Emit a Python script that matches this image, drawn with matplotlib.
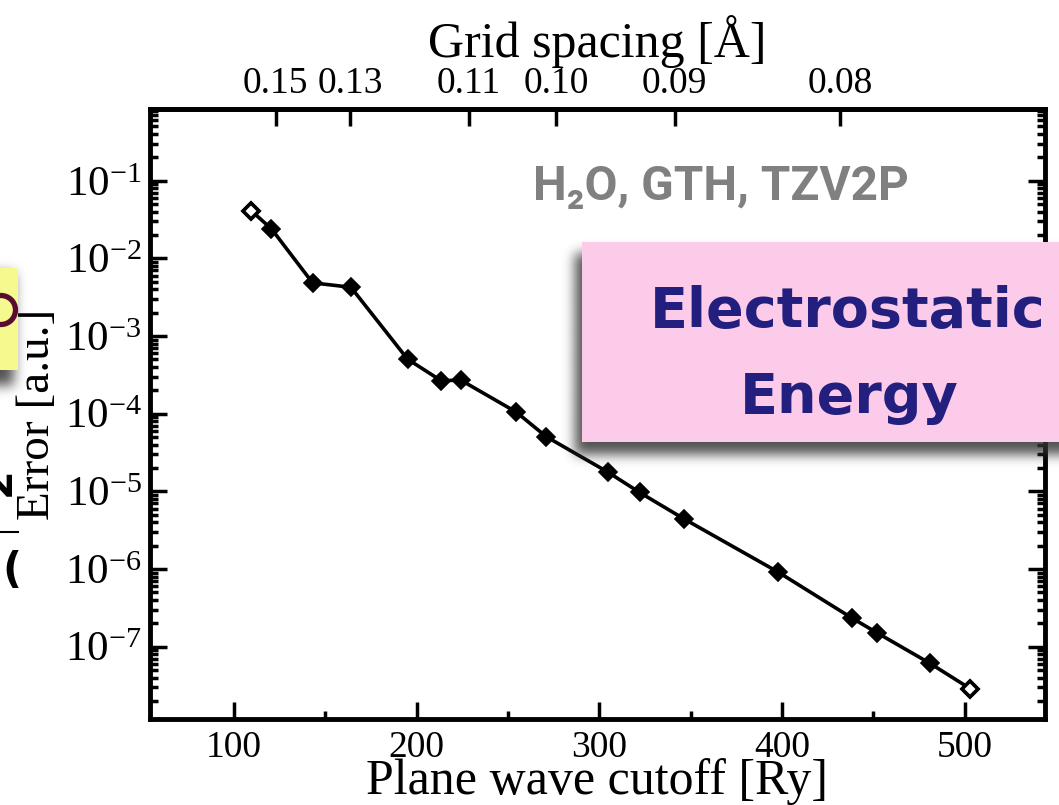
import numpy as np
import matplotlib
matplotlib.use("Agg")
import matplotlib.pyplot as plt
from matplotlib.patches import Rectangle, Ellipse
from matplotlib.ticker import LogLocator, MultipleLocator, NullLocator, NullFormatter

# ---- data -------------------------------------------------------------
cutoff_ry = [109.5, 120.5, 143, 164, 195, 213.5, 224, 254.5, 271, 304.5,
             322, 346.5, 398, 438.5, 452, 481, 503]
error_au = [4.1e-2, 2.4e-2, 4.85e-3, 4.25e-3, 5.05e-4, 2.65e-4, 2.72e-4,
            1.05e-4, 5.05e-5, 1.78e-5, 9.7e-6, 4.4e-6, 9.1e-7, 2.32e-7,
            1.51e-7, 6.1e-8, 2.88e-8]
grid_ticks = [0.15, 0.13, 0.11, 0.10, 0.09, 0.08]
grid_tick_labels = ["0.15", "0.13", "0.11", "0.10", "0.09", "0.08"]

BOHR = 0.529177  # Angstrom


def cutoff_to_spacing(e):
    e = np.clip(np.asarray(e, dtype=float), 1e-6, None)
    return np.pi * BOHR / np.sqrt(e)


def spacing_to_cutoff(h):
    h = np.clip(np.asarray(h, dtype=float), 1e-6, None)
    return (np.pi * BOHR / h) ** 2


# ---- style ------------------------------------------------------------
plt.rcParams["font.family"] = ["Liberation Serif", "DejaVu Serif"]
plt.rcParams["mathtext.fontset"] = "custom"
plt.rcParams["mathtext.rm"] = "Liberation Serif"
plt.rcParams["mathtext.it"] = "Liberation Serif:italic"
plt.rcParams["mathtext.default"] = "regular"
plt.rcParams["axes.unicode_minus"] = False

W, H = 1059, 805
fig = plt.figure(figsize=(W / 100, H / 100), dpi=100)
ax = fig.add_axes([150 / W, 1 - 719 / H, 895 / W, 610 / H])

ax.plot(cutoff_ry, error_au, color="black", lw=2.6, marker="D", ms=9,
        mfc="black", mec="black", mew=1.2, zorder=3)
ax.plot([cutoff_ry[0], cutoff_ry[-1]], [error_au[0], error_au[-1]], ls="none",
        marker="D", ms=8.5, mfc="white", mec="black", mew=2.6, zorder=4)

ax.set_yscale("log")
ax.set_xlim(54, 544)
ax.set_ylim(1.17e-8, 0.84)
ax.xaxis.set_major_locator(MultipleLocator(100))
ax.xaxis.set_minor_locator(MultipleLocator(50))
ax.yaxis.set_major_locator(LogLocator(base=10, numticks=20))
ax.yaxis.set_minor_locator(LogLocator(base=10, subs=np.arange(2, 10), numticks=20))
ax.yaxis.set_minor_formatter(NullFormatter())

ax.tick_params(which="both", direction="in", top=False, right=True, width=2.5)
ax.tick_params(which="major", length=12)
ax.tick_params(which="minor", length=6)
ax.tick_params(axis="y", which="major", labelsize=31, pad=6)
ax.tick_params(axis="x", which="major", labelsize=27, pad=8)
for sp in ax.spines.values():
    sp.set_linewidth(3.5)

ax.set_xlabel("Plane wave cutoff [Ry]", fontsize=36, va="center")
ax.xaxis.set_label_coords(0.5, (719 - 782) / 610)
ax.set_ylabel("Error [a.u.]", fontsize=34, va="center")
ax.yaxis.set_label_coords((38 - 150) / 895, 0.5)

sec = ax.secondary_xaxis("top", functions=(cutoff_to_spacing, spacing_to_cutoff))
sec.set_xticks(grid_ticks)
sec.set_xticklabels(grid_tick_labels)
sec.xaxis.set_minor_locator(NullLocator())
sec.tick_params(direction="in", length=12, width=2.5, labelsize=27, pad=6)
sec.spines["top"].set_linewidth(3.5)
sec.set_xlabel("Grid spacing [Å]", fontsize=36, va="center")
sec.xaxis.set_label_coords(0.5, (719 - 42) / 610, transform=ax.transAxes)

# ---- slide decorations -------------------------------------------------
ov = fig.add_axes([0, 0, 1, 1], zorder=10)
ov.patch.set_alpha(0)
ov.axis("off")


def blur(img, sigma):
    r = int(3 * sigma)
    x = np.arange(-r, r + 1)
    k = np.exp(-x ** 2 / (2 * sigma ** 2))
    k /= k.sum()
    p = np.pad(img, r, mode="edge")
    p = np.apply_along_axis(lambda v: np.convolve(v, k, mode="valid"), 1, p)
    p = np.apply_along_axis(lambda v: np.convolve(v, k, mode="valid"), 0, p)
    return p


mask = np.zeros((H, W))
mask[254:455, 575:W] = 1.0     # pink panel shadow
mask[274:386, 0:14] = 1.0      # yellow panel shadow
shadow = blur(mask, 6)
rgba = np.zeros((H, W, 4))
rgba[..., :3] = 0.2
rgba[..., 3] = np.clip(shadow, 0, 1) * 0.85
ov.imshow(rgba, extent=(0, W, H, 0), interpolation="bilinear", zorder=1,
          aspect="auto")
ov.set_xlim(0, W)
ov.set_ylim(H, 0)

ov.add_patch(Rectangle((582, 242), W - 582 + 10, 200, fc="#fccbea", ec="none", zorder=2))
ov.add_patch(Rectangle((-10, 268), 28, 102, fc="#f5f98e", ec="none", zorder=2))
ov.add_patch(Ellipse((1, 310), 29, 29, fill=False, ec="#5b0c2e", lw=3.8, zorder=3))
ov.text(-2, 482, "2", rotation=90, fontsize=30, fontweight="bold",
        family="DejaVu Sans", color="black", ha="center", va="center", zorder=3)
ov.plot([0, 18], [532, 532], color="black", lw=1.5, zorder=3)
ov.text(12, 571, "(", fontsize=30, fontweight="bold", family="DejaVu Sans",
        color="black", ha="center", va="center", zorder=3)

t_gray = ov.text(721, 200, "H₂O, GTH, TZV2P", fontsize=40, color="#808080",
                 family=["Roboto", "DejaVu Sans"], fontweight="bold",
                 ha="center", va="baseline", zorder=4)
t_elec = ov.text(848, 327, "Electrostatic", fontsize=42, color="#231f7e",
                 family="DejaVu Sans", fontweight="bold", ha="center",
                 va="baseline", zorder=4)
t_energy = ov.text(849, 413, "Energy", fontsize=42, color="#231f7e",
                   family="DejaVu Sans", fontweight="bold", ha="center",
                   va="baseline", zorder=4)

fig.canvas.draw()
rend = fig.canvas.get_renderer()
w = t_gray.get_window_extent(rend).width
t_gray.set_fontsize(t_gray.get_fontsize() * 375 / w)
w = t_elec.get_window_extent(rend).width
size = t_elec.get_fontsize() * 396 / w
t_elec.set_fontsize(size)
t_energy.set_fontsize(size)

fig.savefig("out.png", dpi=100)
